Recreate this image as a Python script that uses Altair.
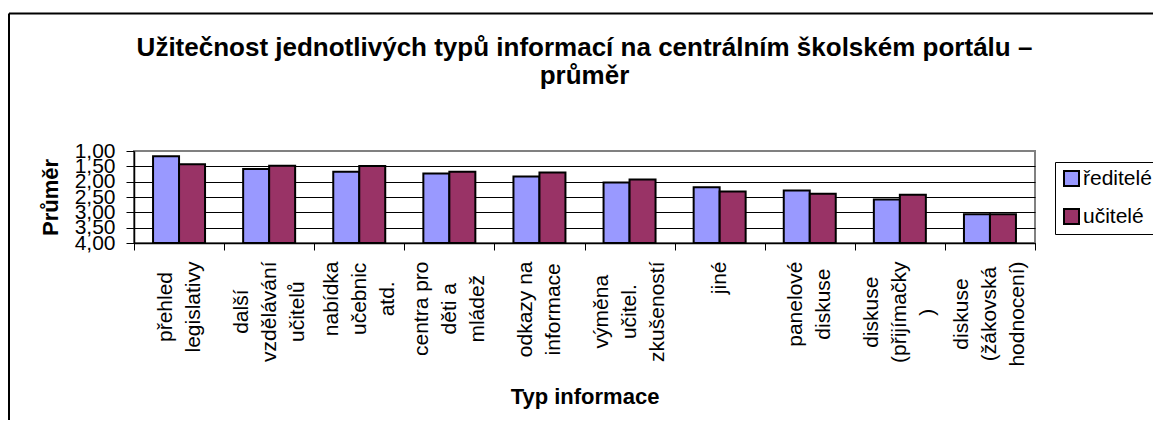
import json
import altair as alt
import pandas as pd

# ---------------- data ----------------
categories = [
    "přehled|legislativy",
    "další|vzdělávání|učitelů",
    "nabídka|učebnic|atd.",
    "centra pro|děti a|mládež",
    "odkazy na|informace",
    "výměna|učitel.|zkušeností",
    "jiné",
    "panelové|diskuse",
    "diskuse|(přijímačky|)",
    "diskuse|(žákovská|hodnocení)",
]
series = ["ředitelé", "učitelé"]
reditele = [1.17, 1.59, 1.68, 1.73, 1.83, 2.03, 2.18, 2.29, 2.58, 3.06]
ucitele = [1.43, 1.48, 1.49, 1.68, 1.70, 1.93, 2.32, 2.39, 2.43, 3.06]
y_ticks = [1.0, 1.5, 2.0, 2.5, 3.0, 3.5, 4.0]
colors = ["#9999FF", "#993366"]

title_lines = [
    "Užitečnost jednotlivých typů informací na centrálním školském portálu –",
    "průměr",
]

# ---- label layout helpers (Excel centres every line of a wrapped label) ----
LABEL_FS = 21
LINE_H = 28
CW = {}
for c in "ijl": CW[c] = 0.222
for c in "ítf .": CW[c] = 0.278
for c in "rř()": CW[c] = 0.333
for c in "kvyýzžsšcčx": CW[c] = 0.5
CW["m"] = 0.833
CW["w"] = 0.722


def text_width(s):
    return sum(CW.get(ch, 0.556) for ch in s) * LABEL_FS


def n_lines(label):
    return len(label.split("|"))


offset_conds = []
padding_conds = []
for c in categories:
    test = "datum.value === " + json.dumps(c, ensure_ascii=False)
    offset_conds.append({"test": test, "value": -(n_lines(c) - 1) * LINE_H / 2})
    longest = max(text_width(l) for l in c.split("|"))
    padding_conds.append({"test": test, "value": 11 + longest / 2})

rows = []
for i, lab in enumerate(categories):
    rows.append({"cat": lab, "serie": series[0], "value": reditele[i]})
    rows.append({"cat": lab, "serie": series[1], "value": ucitele[i]})
df = pd.DataFrame(rows)

FONT = "Liberation Sans"

bars = alt.Chart(df).mark_bar(stroke="black", strokeWidth=2).encode(
    x=alt.X(
        "cat:N",
        sort=categories,
        scale=alt.Scale(paddingInner=0, paddingOuter=0),
        axis=alt.Axis(
            title="Typ informace",
            titleFontSize=22,
            titleFontWeight="bold",
            titleColor="black",
            titleY=160,
            titleBaseline="alphabetic",
            labelExpr="split(datum.label, '|')",
            labelAngle=270,
            labelAlign="center",
            labelBaseline="middle",
            labelFontSize=LABEL_FS,
            labelLineHeight=LINE_H,
            labelOffset={"condition": offset_conds, "value": 0},
            labelPadding={"condition": padding_conds, "value": 40},
            labelColor="black",
            labelOverlap=False,
            labelLimit=0,
            tickBand="extent",
            tickSize=7,
            tickColor="black",
            domainColor="black",
            domainWidth=1.5,
            grid=False,
        ),
    ),
    xOffset=alt.XOffset(
        "serie:N",
        sort=series,
        scale=alt.Scale(paddingInner=0, paddingOuter=0.733),
    ),
    y=alt.Y(
        "value:Q",
        scale=alt.Scale(domain=[1, 4], reverse=True, zero=False, nice=False),
        axis=alt.Axis(
            values=y_ticks,
            labelExpr="replace(format(datum.value, '.2f'), '.', ',')",
            title="Průměr",
            titleFontSize=22,
            titleFontWeight="bold",
            titleColor="black",
            titleX=-77,
            titleBaseline="alphabetic",
            labelFontSize=21,
            labelColor="black",
            labelPadding=11,
            labelOverlap=False,
            labelFlush=False,
            tickSize=8,
            tickColor="black",
            domainColor="black",
            domainWidth=1.5,
            grid=True,
            gridColor=alt.condition("datum.value == 1", alt.value("#808080"), alt.value("#000000")),
            gridWidth=1,
        ),
    ),
    y2=alt.datum(4),
    color=alt.Color(
        "serie:N",
        sort=series,
        scale=alt.Scale(domain=series, range=colors),
        legend=alt.Legend(
            title=None,
            orient="none",
            legendX=921,
            legendY=11,
            direction="vertical",
            symbolType="square",
            symbolSize=225,
            symbolStrokeColor="black",
            symbolStrokeWidth=2,
            labelFontSize=21,
            labelColor="black",
            labelOffset=1,
            rowPadding=15,
            padding=6,
            strokeColor="black",
            fillColor="white",
        ),
    ),
)

frame_data = alt.Data(values=[{"k": 0}])
frame_left = alt.Chart(frame_data).mark_rule(color="black", strokeWidth=2).encode(
    x=alt.value(-125), y=alt.value(-137.5), y2=alt.value(300)
)
frame_top = alt.Chart(frame_data).mark_rule(color="black", strokeWidth=2).encode(
    x=alt.value(-125), x2=alt.value(1100), y=alt.value(-137.5)
)

chart = (
    alt.layer(bars, frame_left, frame_top)
    .properties(
        width=901,
        height=92,
        padding={"left": 126, "top": 143, "right": 118, "bottom": 177},
        autosize=alt.AutoSizeParams(type="none"),
        title=alt.TitleParams(
            text=title_lines,
            fontSize=26,
            fontWeight="bold",
            color="black",
            anchor="middle",
            frame="group",
            lineHeight=28,
            offset=-76,
        ),
    )
    .configure(font=FONT, background="white")
    .configure_view(stroke="#808080", strokeWidth=2)
)

chart.save("out.html", embed_options={"renderer": "svg", "actions": False})
